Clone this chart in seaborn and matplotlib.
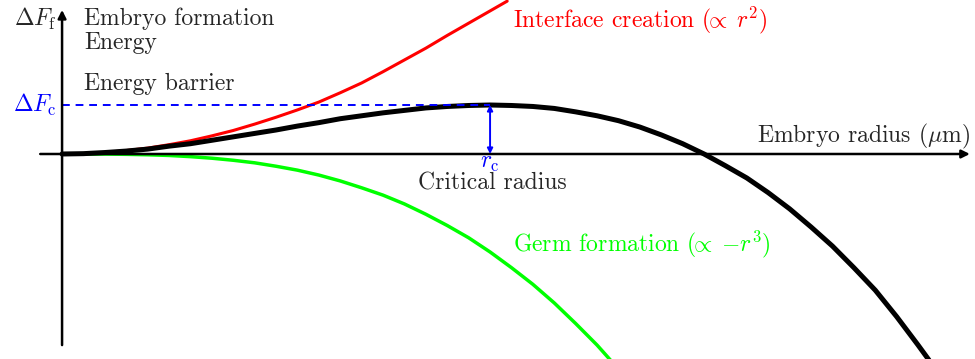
import matplotlib
matplotlib.use("Agg")
import matplotlib.pyplot as plt
import pandas as pd
import seaborn as sns

# radius in units of r_c, energy in units of dF_c
r_interface = [0, 0.05, 0.1, 0.15, 0.2, 0.25, 0.3, 0.35, 0.4, 0.45, 0.5, 0.55, 0.6, 0.65,
               0.7, 0.75, 0.8, 0.85, 0.9, 0.95, 1.0, 1.04]
f_interface = [0, 0.01, 0.03, 0.07, 0.12, 0.19, 0.27, 0.37, 0.48, 0.61, 0.75, 0.90, 1.06, 1.25,
               1.45, 1.68, 1.92, 2.16, 2.42, 2.67, 2.92, 3.12]

r_germ = [0, 0.05, 0.1, 0.15, 0.2, 0.25, 0.3, 0.35, 0.4, 0.45, 0.5, 0.55, 0.6, 0.65,
          0.7, 0.75, 0.8, 0.85, 0.9, 0.95, 1.0, 1.05, 1.1, 1.15, 1.2, 1.25, 1.3]
f_germ = [0, 0.0, -0.002, -0.007, -0.016, -0.03, -0.054, -0.086, -0.128, -0.18, -0.25, -0.33,
          -0.43, -0.55, -0.69, -0.84, -1.02, -1.23, -1.46, -1.71, -2.0, -2.32, -2.66, -3.04,
          -3.46, -3.9, -4.39]

r_total = [0, 0.05, 0.1, 0.15, 0.2, 0.25, 0.3, 0.35, 0.4, 0.45, 0.5, 0.55, 0.6, 0.65, 0.7,
           0.75, 0.8, 0.85, 0.9, 0.95, 1.0, 1.05, 1.1, 1.15, 1.2, 1.25, 1.3, 1.35, 1.4, 1.45,
           1.5, 1.55, 1.6, 1.65, 1.7, 1.75, 1.8, 1.85, 1.9, 1.95, 2.0, 2.05]
f_total = [0, 0.007, 0.03, 0.06, 0.10, 0.16, 0.21, 0.28, 0.35, 0.42, 0.49, 0.57, 0.64, 0.72,
           0.78, 0.84, 0.89, 0.94, 0.97, 0.99, 1.0, 0.99, 0.97, 0.93, 0.86, 0.78, 0.68, 0.55,
           0.39, 0.21, 0.0, -0.24, -0.49, -0.79, -1.12, -1.49, -1.88, -2.32, -2.78, -3.32,
           -3.90, -4.5]

r_crit = 1.0
f_crit = 1.0

sns.set_style("white")
plt.rcParams['font.family'] = ['cmr10', 'DejaVu Serif']
plt.rcParams['mathtext.fontset'] = 'cm'
plt.rcParams['axes.unicode_minus'] = False
FS = 17

fig = plt.figure(figsize=(9.75, 3.59), dpi=100)
ax = fig.add_axes([0, 0, 1, 1])
ax.set_xlim(-0.145, 2.133)
ax.set_ylim(-4.184, 3.143)
ax.axis('off')

df_i = pd.DataFrame({'r': r_interface, 'F': f_interface})
df_g = pd.DataFrame({'r': r_germ, 'F': f_germ})
df_t = pd.DataFrame({'r': r_total, 'F': f_total})

sns.lineplot(data=df_i, x='r', y='F', ax=ax, color='#ff0000', linewidth=2.2, sort=False)
sns.lineplot(data=df_g, x='r', y='F', ax=ax, color='#00ff00', linewidth=2.5, sort=False)

# axes with arrows
ax.annotate('', xy=(2.121, 0), xytext=(-0.051, 0),
            arrowprops=dict(arrowstyle='-|>', lw=1.8, color='black', mutation_scale=12,
                            shrinkA=0, shrinkB=0))
ax.annotate('', xy=(0, 2.94), xytext=(0, -3.90),
            arrowprops=dict(arrowstyle='-|>', lw=1.8, color='black', mutation_scale=12,
                            shrinkA=0, shrinkB=0))

sns.lineplot(data=df_t, x='r', y='F', ax=ax, color='black', linewidth=3.6, sort=False)

# barrier
ax.plot([0, r_crit], [f_crit, f_crit], color='#0000ff', lw=1.4, linestyle=(0, (4, 3)))
ax.annotate('', xy=(r_crit, 0), xytext=(r_crit, f_crit),
            arrowprops=dict(arrowstyle='<|-|>', lw=1.4, color='#0000ff', mutation_scale=8,
                            shrinkA=0, shrinkB=0))

ax.text(-0.012, 2.755, r'$\Delta F_\mathrm{f}$', fontsize=FS, ha='right', va='center')
ax.text(0.051, 2.755, 'Embryo formation', fontsize=FS, ha='left', va='center')
ax.text(0.051, 2.265, 'Energy', fontsize=FS, ha='left', va='center')
ax.text(0.051, 1.43, 'Energy barrier', fontsize=FS, ha='left', va='center')
ax.text(-0.012, 1.0, r'$\Delta F_\mathrm{c}$', fontsize=FS, ha='right', va='center', color='#0000ff')
ax.text(r_crit, -0.18, r'$r_\mathrm{c}$', fontsize=FS, ha='center', va='center', color='#0000ff')
ax.text(1.005, -0.61, 'Critical radius', fontsize=FS, ha='center', va='center')
ax.text(1.054, 2.735, r'Interface creation ($\!\!\propto\;r^2$)', fontsize=FS, ha='left',
        va='center', color='#ff0000')
ax.text(1.054, -1.84, r'Germ formation ($\!\!\propto\;{-}r^3$)', fontsize=FS, ha='left',
        va='center', color='#00ff00')
ax.text(2.121, 0.367, r'Embryo radius ($\mu$m)', fontsize=FS, ha='right', va='center')

fig.savefig('out.png', dpi=100)
